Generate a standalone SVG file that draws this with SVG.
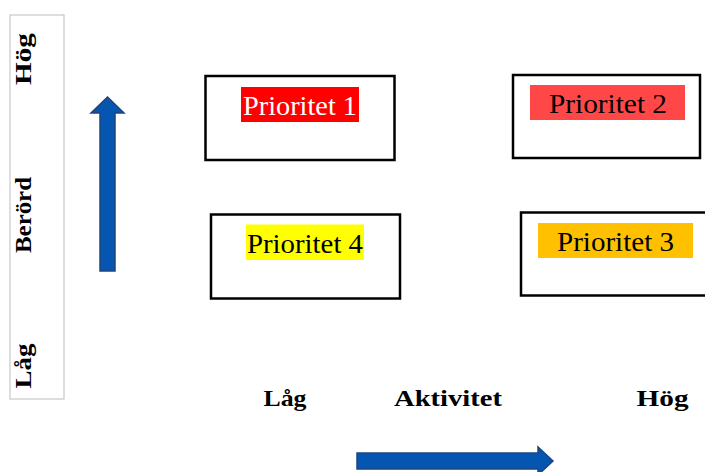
<svg xmlns="http://www.w3.org/2000/svg" width="705" height="472" viewBox="0 0 705 472">
<defs>
<style>
.box{fill:#fff;stroke:#000;stroke-width:2.5}
.lbl{font-family:"Liberation Serif","Times New Roman",serif;font-size:27px;text-anchor:middle}
.axis{font-family:"Liberation Serif","Times New Roman",serif;font-size:23px;font-weight:bold;text-anchor:middle;fill:#000}
.arrow{fill:#0556b0;stroke:#1d4580;stroke-width:1.5}
</style>
</defs>
<rect width="705" height="472" fill="#fff"/>
<g id="y-axis">
<rect x="10" y="15" width="54" height="384" fill="#fff" stroke="#bdbdbd" stroke-width="1"/>
<text class="axis" transform="translate(31,59) rotate(-90)" textLength="52" lengthAdjust="spacingAndGlyphs">Hög</text>
<text class="axis" transform="translate(31,215) rotate(-90)" textLength="76" lengthAdjust="spacingAndGlyphs">Berörd</text>
<text class="axis" transform="translate(31,366) rotate(-90)" textLength="45" lengthAdjust="spacingAndGlyphs">Låg</text>
</g>
<g id="x-axis">
<text class="axis" x="285" y="406" textLength="43" lengthAdjust="spacingAndGlyphs">Låg</text>
<text class="axis" x="448" y="406" textLength="108" lengthAdjust="spacingAndGlyphs">Aktivitet</text>
<text class="axis" x="662.5" y="406" textLength="52" lengthAdjust="spacingAndGlyphs">Hög</text>
</g>
<g id="p1">
<rect class="box" x="205.5" y="76" width="189" height="84"/>
<rect x="241" y="87" width="118" height="35" fill="#ff0000"/>
<text class="lbl" x="300" y="115" fill="#fff" textLength="114" lengthAdjust="spacingAndGlyphs">Prioritet 1</text>
</g>
<g id="p2">
<rect class="box" x="513" y="75" width="187" height="83"/>
<rect x="530" y="85" width="155" height="35" fill="#ff4747"/>
<text class="lbl" x="608" y="113" fill="#000" textLength="118" lengthAdjust="spacingAndGlyphs">Prioritet 2</text>
</g>
<g id="p4">
<rect class="box" x="211" y="214.5" width="189" height="84"/>
<rect x="246" y="224.5" width="118" height="35.5" fill="#ffff00"/>
<text class="lbl" x="305" y="253" fill="#000" textLength="116" lengthAdjust="spacingAndGlyphs">Prioritet 4</text>
</g>
<g id="p3">
<rect class="box" x="521" y="212.5" width="190" height="83"/>
<rect x="538" y="223" width="155" height="35" fill="#ffc000"/>
<text class="lbl" x="615.5" y="251" fill="#000" textLength="117" lengthAdjust="spacingAndGlyphs">Prioritet 3</text>
</g>
<g id="connectors">
<path class="arrow" d="M100,271 L100,113 L91,113 L107.5,97 L124,113 L115,113 L115,271 Z"/>
<path class="arrow" d="M357,453 L538,453 L538,447 L553,461 L538,475 L538,469 L357,469 Z"/>
</g>
</svg>
